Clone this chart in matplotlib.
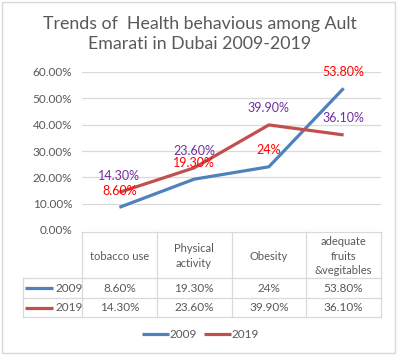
import matplotlib.pyplot as plt
from matplotlib.patches import Rectangle
import matplotlib

matplotlib.rcParams['font.family'] = ['Lato', 'DejaVu Sans']

categories = ['tobacco use', 'Physical\nactivity', 'Obesity', 'adequate\nfruits\n&vegitables']
years = ['2009', '2019']
values_2009 = [8.6, 19.3, 24.0, 53.8]
values_2019 = [14.3, 23.6, 39.9, 36.1]
labels_2009 = ['8.60%', '19.30%', '24%', '53.80%']
labels_2019 = ['14.30%', '23.60%', '39.90%', '36.10%']
yticks = [0, 10, 20, 30, 40, 50, 60]

line_colors = ['#4F81BD', '#C0504D']
label_colors = ['#FF0000', '#7030A0']
txt = '#595959'
grid = '#D9D9D9'

W, H = 397, 355
fig = plt.figure(figsize=(W / 100, H / 100), dpi=100)

# outer chart border
fig.add_artist(Rectangle((2 / W, 2 / H), 393 / W, 351 / H, transform=fig.transFigure,
                         fill=False, ec=grid, lw=1))

fig.text(200 / W, 1 - 34 / H, 'Trends of  Health behavious among Ault\nEmarati in Dubai 2009-2019',
         ha='center', va='center', fontsize=12.8, color=txt, linespacing=1.3)

# plot area
x0, x1, ytop, ybot = 82, 381, 72, 230
ax = fig.add_axes([x0 / W, 1 - ybot / H, (x1 - x0) / W, (ybot - ytop) / H])
ax.set_xlim(-0.5, 3.5)
ax.set_ylim(0, 60)
ax.set_yticks(yticks)
ax.set_yticklabels([f'{v:.2f}%' for v in yticks])
ax.set_xticks([])
ax.tick_params(axis='y', length=0, pad=7, labelsize=8.5, labelcolor=txt)
for s in ax.spines.values():
    s.set_visible(False)
ax.grid(axis='y', color=grid, lw=0.9)
ax.set_axisbelow(True)

xs = range(len(categories))
series = [values_2009, values_2019]
labels = [labels_2009, labels_2019]
for vals, labs, lc, tc in zip(series, labels, line_colors, label_colors):
    ax.plot(xs, vals, color=lc, lw=2.3, solid_capstyle='butt')
    for x, v, lab in zip(xs, vals, labs):
        ax.annotate(lab, (x, v), xytext=(0, 12), textcoords='offset points',
                    ha='center', va='center', color=tc, fontsize=9)

# data table (pixel-coordinate overlay)
tax = fig.add_axes([0, 0, 1, 1])
tax.set_xlim(0, W)
tax.set_ylim(H, 0)
tax.axis('off')

col_w = (x1 - x0) / len(categories)
edges = [x0 + i * col_w for i in range(len(categories) + 1)]
tleft = 23
rows_y = [232, 278, 298, 317]
lkw = dict(color=grid, lw=0.9)

tax.plot([x0, x1], [rows_y[0]] * 2, **lkw)
for y in rows_y[1:]:
    tax.plot([tleft, x1], [y, y], **lkw)
for e in edges:
    tax.plot([e, e], [rows_y[0], rows_y[-1]], **lkw)
tax.plot([tleft, tleft], [rows_y[1], rows_y[-1]], **lkw)

for i, c in enumerate(categories):
    cx = (edges[i] + edges[i + 1]) / 2
    tax.text(cx, (rows_y[0] + rows_y[1]) / 2 + 1, c, ha='center', va='center',
             fontsize=8, color=txt, linespacing=1.35)

for r, (yr, labs, lc) in enumerate(zip(years, labels, line_colors)):
    cy = (rows_y[r + 1] + rows_y[r + 2]) / 2
    tax.plot([25, 53], [cy, cy], color=lc, lw=2.3, solid_capstyle='butt')
    tax.text(55, cy, yr, ha='left', va='center', fontsize=8.5, color=txt)
    for i, lab in enumerate(labs):
        cx = (edges[i] + edges[i + 1]) / 2
        tax.text(cx, cy, lab, ha='center', va='center', fontsize=8.5, color=txt)

# legend
for (lx, yr, lc) in zip([142, 204], years, line_colors):
    tax.plot([lx, lx + 27], [334, 334], color=lc, lw=2.3, solid_capstyle='butt')
    tax.text(lx + 28, 334, yr, ha='left', va='center', fontsize=8.5, color=txt)

fig.savefig('out.png', dpi=100)
